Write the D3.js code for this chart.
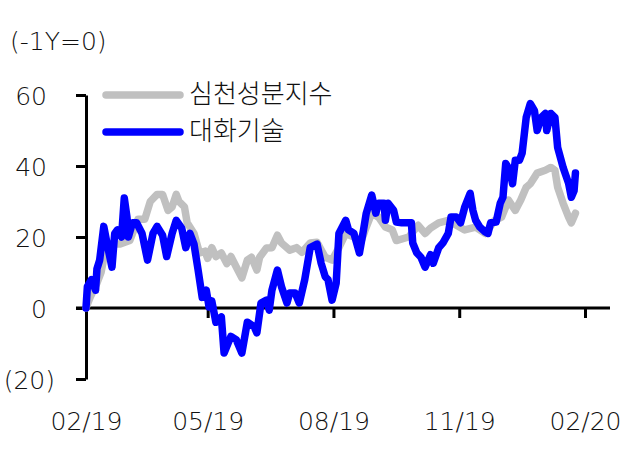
<!DOCTYPE html>
<html>
<head>
<meta charset="utf-8">
<script src="https://cdn.jsdelivr.net/npm/d3@7"></script>
<style>
  html, body { margin: 0; padding: 0; background: #fff; }
  svg { display: block; }
</style>
</head>
<body>
<svg id="chart" width="626" height="451"></svg>
<script>
// ---- data ----
const seriesNames = ["심천성분지수", "대화기술"];
const yTickValues = [-20, 0, 20, 40, 60];
const xTickDates = ["2019-02-01", "2019-05-01", "2019-08-01", "2019-11-01", "2020-02-01"];
const unitLabel = "(-1Y=0)";

const grayDates = ["2019-02-01","2019-02-04","2019-02-09","2019-02-12","2019-02-15","2019-02-17","2019-02-26","2019-03-05","2019-03-11","2019-03-16","2019-03-20","2019-03-25","2019-03-29","2019-04-02","2019-04-05","2019-04-08","2019-04-10","2019-04-14","2019-04-16","2019-04-21","2019-04-25","2019-04-29","2019-05-01","2019-05-04","2019-05-07","2019-05-11","2019-05-15","2019-05-18","2019-05-22","2019-05-26","2019-05-30","2019-06-02","2019-06-06","2019-06-08","2019-06-13","2019-06-17","2019-06-21","2019-06-24","2019-06-30","2019-07-05","2019-07-09","2019-07-15","2019-07-20","2019-07-26","2019-07-31","2019-08-05","2019-08-10","2019-08-16","2019-08-21","2019-08-25","2019-08-29","2019-09-03","2019-09-08","2019-09-13","2019-09-16","2019-09-25","2019-10-02","2019-10-07","2019-10-11","2019-10-17","2019-10-24","2019-10-30","2019-11-05","2019-11-13","2019-11-20","2019-11-27","2019-12-02","2019-12-07","2019-12-12","2019-12-16","2019-12-20","2019-12-23","2019-12-28","2020-01-03","2020-01-07","2020-01-10","2020-01-12","2020-01-16","2020-01-20","2020-01-22","2020-01-25"];
const grayValues = [0,3,7,10,16,18,18,19,25,25,30,32,32,27.5,28.5,32,30,28.5,24,21,15.5,16,14,17,14.5,15.5,12.5,14.5,11.5,8.5,13.5,14.3,10.7,14.3,16.9,17,20.5,18.3,16.3,17,15.7,18.3,18.5,14.3,13.5,17,21,20,18.5,22.8,26.7,25.6,22.8,22,19,20,23.3,21,22.5,24,24.7,23.3,22,22.8,21,24.7,25.6,30.4,27.5,30.4,34,35,38,38.8,39.6,38.8,34,29.5,25.6,24,26.7];

const blueDates = ["2019-02-01","2019-02-02","2019-02-05","2019-02-08","2019-02-09","2019-02-11","2019-02-14","2019-02-17","2019-02-20","2019-02-22","2019-02-24","2019-02-27","2019-03-01","2019-03-03","2019-03-04","2019-03-07","2019-03-10","2019-03-14","2019-03-18","2019-03-22","2019-03-25","2019-03-29","2019-04-01","2019-04-05","2019-04-08","2019-04-12","2019-04-15","2019-04-18","2019-04-21","2019-04-24","2019-04-27","2019-04-30","2019-05-02","2019-05-04","2019-05-07","2019-05-11","2019-05-13","2019-05-18","2019-05-22","2019-05-26","2019-05-30","2019-06-04","2019-06-06","2019-06-09","2019-06-13","2019-06-15","2019-06-17","2019-06-21","2019-06-24","2019-06-28","2019-06-30","2019-07-04","2019-07-07","2019-07-11","2019-07-15","2019-07-20","2019-07-23","2019-07-26","2019-07-28","2019-07-31","2019-08-03","2019-08-05","2019-08-10","2019-08-12","2019-08-16","2019-08-20","2019-08-23","2019-08-25","2019-08-29","2019-09-01","2019-09-03","2019-09-07","2019-09-08","2019-09-10","2019-09-14","2019-09-16","2019-09-20","2019-09-27","2019-09-28","2019-10-01","2019-10-04","2019-10-07","2019-10-11","2019-10-13","2019-10-17","2019-10-20","2019-10-24","2019-10-26","2019-10-30","2019-11-02","2019-11-05","2019-11-09","2019-11-11","2019-11-13","2019-11-16","2019-11-20","2019-11-22","2019-11-24","2019-11-28","2019-12-01","2019-12-03","2019-12-05","2019-12-08","2019-12-10","2019-12-12","2019-12-15","2019-12-17","2019-12-20","2019-12-23","2019-12-26","2019-12-28","2019-12-31","2020-01-03","2020-01-04","2020-01-07","2020-01-10","2020-01-12","2020-01-16","2020-01-20","2020-01-22","2020-01-24","2020-01-25"];
const blueValues = [0,6,8,5,11,13.5,23,17,11.5,21,22,20,31,25.5,20,24,24,21,13.5,21,23,20.5,14.5,21,24.7,22.5,17,21,18,10.7,3,5,0.3,2,-4,-2.5,-12.7,-8,-9,-12.7,-4,-5.3,-7,1.4,2.2,-0.6,5,10.7,6,1.4,4.2,4.2,1.4,8,17,18,12.6,8.8,8,2.2,7,21,24.7,22,21,15.5,22,26.7,31.8,26.7,29.5,29.5,24.7,29.5,27.5,24.2,24,24,18.3,15.5,14.3,11.5,15,12.6,17,18.3,21,25.6,25.6,24,28.4,32.3,27.5,24.7,22.8,21.4,21,24,24.2,29.5,31.2,40.7,38.8,35,41.6,41.6,43.6,53.7,57.6,55.6,50,53.7,54.8,50,54.8,53.7,45.2,39.6,35.1,31.2,33,38];

const seriesColors = ["#c0c0c0", "#0000ff"];

// ---- drawing ----
const parse = d3.timeParse("%Y-%m-%d");
const svg = d3.select("#chart");
const numFont = "'DejaVu Sans', sans-serif";
const korFont = "'Noto Sans CJK KR', 'Noto Sans', sans-serif";
const textWeight = 300;

const x = d3.scaleTime()
  .domain([parse("2019-02-01"), parse("2020-02-01")])
  .range([86, 585]);
const y = d3.scaleLinear().domain([-20, 60]).range([379, 95]);

const fmt = v => v < 0 ? `(${-v})` : `${v}`;

// y axis
const gy = svg.append("g").attr("transform", "translate(86,0)")
  .call(d3.axisLeft(y).tickValues(yTickValues).tickSize(10).tickSizeOuter(0).tickFormat(fmt));
gy.select(".domain").attr("stroke", "#000").attr("stroke-width", 3);
gy.selectAll(".tick line").attr("stroke", "#000").attr("stroke-width", 3);
gy.selectAll(".tick text")
  .attr("x", d => d < 0 ? -31 : -39)
  .attr("dy", "0.36em")
  .attr("fill", "#111")
  .style("font-family", numFont).style("font-size", "25px").style("font-weight", textWeight);

// x axis
const gx = svg.append("g").attr("transform", `translate(0,${y(0)})`)
  .call(d3.axisBottom(x).tickValues(xTickDates.map(parse)).tickSize(10).tickSizeOuter(0)
    .tickFormat(d3.timeFormat("%m/%y")));
gx.select(".domain").remove();
gx.selectAll(".tick line").attr("stroke", "#000").attr("stroke-width", 3);
gx.selectAll(".tick text")
  .attr("y", 430 - y(0)).attr("dy", 0)
  .attr("fill", "#111")
  .style("font-family", numFont).style("font-size", "25px").style("font-weight", textWeight);
gx.append("line")
  .attr("x1", 76).attr("x2", 610).attr("y1", 0).attr("y2", 0)
  .attr("stroke", "#000").attr("stroke-width", 3);

// unit label
svg.append("text").attr("x", 10).attr("y", 50)
  .attr("fill", "#111")
  .style("font-family", numFont).style("font-size", "25px").style("font-weight", textWeight)
  .text(unitLabel);

// lines
const line = d3.line().x(d => x(d[0])).y(d => y(d[1]));
const series = [
  grayDates.map((d, i) => [parse(d), grayValues[i]]),
  blueDates.map((d, i) => [parse(d), blueValues[i]])
];
series.forEach((s, i) => {
  svg.append("path").datum(s)
    .attr("d", line)
    .attr("fill", "none")
    .attr("stroke", seriesColors[i])
    .attr("stroke-width", 7.5)
    .attr("stroke-linejoin", "round")
    .attr("stroke-linecap", "round");
});

// legend
const legendY = [95, 132];
seriesNames.forEach((name, i) => {
  svg.append("line")
    .attr("x1", 106).attr("x2", 180)
    .attr("y1", legendY[i]).attr("y2", legendY[i])
    .attr("stroke", seriesColors[i]).attr("stroke-width", 7.5)
    .attr("stroke-linecap", "round");
  svg.append("text")
    .attr("x", 189).attr("y", legendY[i] + 8)
    .attr("fill", "#111")
    .style("font-family", korFont).style("font-size", "26px").style("font-weight", textWeight)
    .text(name);
});
</script>
</body>
</html>
